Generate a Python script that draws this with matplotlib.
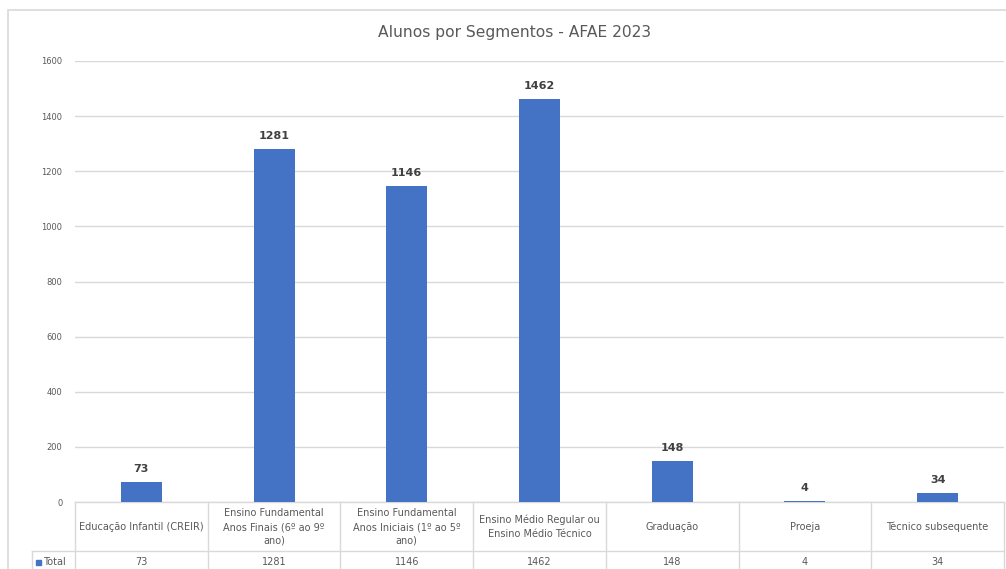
import matplotlib
matplotlib.use("Agg")
import matplotlib.pyplot as plt
import matplotlib.patches as mpatches

categories = [
    "Educação Infantil (CREIR)",
    "Ensino Fundamental\nAnos Finais (6º ao 9º\nano)",
    "Ensino Fundamental\nAnos Iniciais (1º ao 5º\nano)",
    "Ensino Médio Regular ou\nEnsino Médio Técnico",
    "Graduação",
    "Proeja",
    "Técnico subsequente",
]
totals = [73, 1281, 1146, 1462, 148, 4, 34]
series_name = "Total"
title = "Alunos por Segmentos - AFAE 2023"
yticks = [0, 200, 400, 600, 800, 1000, 1200, 1400, 1600]

bar_color = "#4472c4"
grid_color = "#d9d9d9"
text_gray = "#595959"

W, H = 1006, 569
fig = plt.figure(figsize=(W / 100, H / 100), dpi=100)
fig.patch.set_facecolor("white")

# outer chart border
fig.add_artist(mpatches.Rectangle((8 / W, -0.1), 1.2, (H - 10) / H + 0.1,
                                  transform=fig.transFigure, fill=False,
                                  edgecolor=grid_color, linewidth=1.2))

# plot area
left, right, top, bottom = 75, 1004, 61, 502
ax = fig.add_axes([left / W, (H - bottom) / H, (right - left) / W, (bottom - top) / H])
ax.set_facecolor("none")

x = list(range(len(categories)))
ax.bar(x, totals, width=0.31, color=bar_color, zorder=3)
for xi, v in zip(x, totals):
    ax.text(xi, v + 28, str(v), ha="center", va="bottom", fontsize=8,
            fontweight="bold", color="#404040")

ax.set_xlim(-0.5, len(categories) - 0.5)
ax.set_ylim(0, 1600)
ax.set_yticks(yticks)
ax.set_yticklabels([str(t) for t in yticks], fontsize=6, color=text_gray)
ax.tick_params(axis="y", length=0, pad=9)
ax.set_xticks([])
ax.grid(axis="y", color=grid_color, linewidth=1, zorder=0)
for s in ax.spines.values():
    s.set_visible(False)

fig.text(515 / W, 1 - 33 / H, title, ha="center", va="center",
         fontsize=11.2, color=text_gray)

# data table below the plot
px = 1.0 / (bottom - top)  # one pixel in axes fraction
row1 = -49 * px
row2 = -90 * px
lk = dict(color=grid_color, linewidth=1, clip_on=False, transform=ax.transAxes)
ax.plot([0, 1], [0, 0], **lk)
ax.plot([(32 - left) / (right - left), 1], [row1, row1], **lk)
ax.plot([(32 - left) / (right - left), (32 - left) / (right - left)], [row1, row2], **lk)
for i in range(len(categories) + 1):
    xb = i / len(categories)
    ax.plot([xb, xb], [0, row2], **lk)

for xi, cat, v in zip(x, categories, totals):
    ax.text(xi, -25 * px, cat, transform=ax.get_xaxis_transform(),
            ha="center", va="center", fontsize=7, color=text_gray,
            linespacing=1.45)
    ax.text(xi, -60 * px, str(v), transform=ax.get_xaxis_transform(),
            ha="center", va="center", fontsize=7, color=text_gray)

lx = (36 - left) / (right - left)
ax.add_patch(mpatches.Rectangle((lx, -62.5 * px), 5 / (right - left), 5 * px,
                                transform=ax.transAxes, color=bar_color,
                                clip_on=False))
ax.text(lx + 7 / (right - left), -60 * px, series_name, transform=ax.transAxes,
        ha="left", va="center", fontsize=7, color=text_gray)

fig.savefig("out.png", dpi=100, facecolor="white")
